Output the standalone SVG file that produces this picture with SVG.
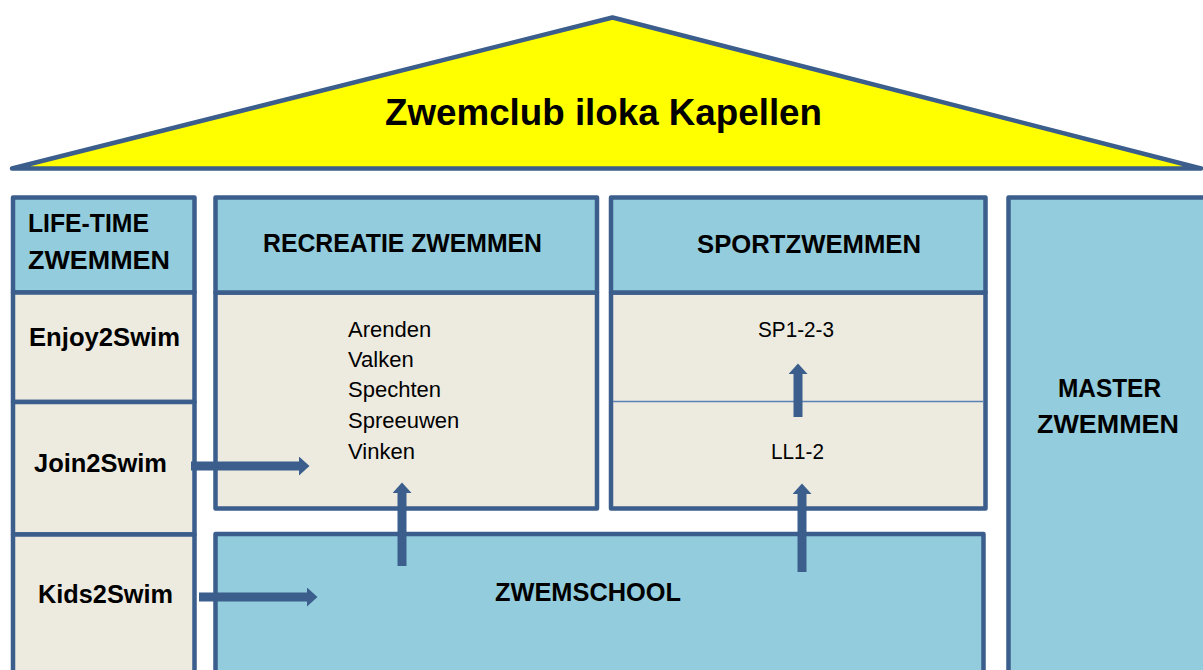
<svg xmlns="http://www.w3.org/2000/svg" width="1203" height="670" viewBox="0 0 1203 670">
<defs>
<style>
.hdr{fill:#93CDDD;stroke:#3B5E8C;stroke-width:4.5;stroke-linejoin:round}
.body{fill:#EDEBE0;stroke:#3B5E8C;stroke-width:4.5;stroke-linejoin:round}
.b{font-family:"Liberation Sans",Arial,sans-serif;font-weight:bold;font-size:25px;fill:#000}
.r{font-family:"Liberation Sans",Arial,sans-serif;font-size:22px;fill:#000}
.arr{stroke:#3B5E8C;stroke-width:9;fill:none}
</style>
<marker id="head" markerUnits="userSpaceOnUse" markerWidth="12" markerHeight="20" refX="0" refY="9.5" orient="auto" viewBox="0 0 12 20">
<path d="M0,0 L10.5,9.5 L0,19 Z" fill="#3B5E8C"/>
</marker>
</defs>
<rect x="0" y="0" width="1203" height="670" fill="#FFFFFF"/>

<g id="roof">
<polygon points="12,168.5 612.5,17.5 1201,168.5" fill="#FFFF00" stroke="#3B5E8C" stroke-width="4.5" stroke-linejoin="round"/>
<text x="603.5" y="125" text-anchor="middle" font-family="Liberation Sans, Arial, sans-serif" font-weight="bold" font-size="37" textLength="437" lengthAdjust="spacingAndGlyphs">Zwemclub iloka Kapellen</text>
</g>

<g id="lifetime">
<rect class="hdr" x="13" y="197.5" width="181.5" height="95"/>
<text class="b" x="28" y="232" textLength="121" lengthAdjust="spacingAndGlyphs">LIFE-TIME</text>
<text class="b" x="28" y="269" textLength="142" lengthAdjust="spacingAndGlyphs">ZWEMMEN</text>
</g>
<g id="enjoy2swim">
<rect class="body" x="13" y="292.5" width="181.5" height="109.5"/>
<text class="b" x="29" y="346" textLength="151" lengthAdjust="spacingAndGlyphs">Enjoy2Swim</text>
</g>
<g id="join2swim">
<rect class="body" x="13" y="402" width="181.5" height="132.5"/>
<text class="b" x="34" y="472" textLength="133" lengthAdjust="spacingAndGlyphs">Join2Swim</text>
</g>
<g id="kids2swim">
<rect class="body" x="13" y="534.5" width="181.5" height="150"/>
<text class="b" x="38" y="603" textLength="135" lengthAdjust="spacingAndGlyphs">Kids2Swim</text>
</g>

<g id="recreatie">
<rect class="body" x="215.5" y="292.5" width="381.5" height="216"/>
<rect class="hdr" x="215.5" y="197.5" width="381.5" height="95"/>
<text class="b" x="263" y="252" textLength="279" lengthAdjust="spacingAndGlyphs">RECREATIE ZWEMMEN</text>
<text class="r" x="348" y="337">Arenden</text>
<text class="r" x="348" y="367">Valken</text>
<text class="r" x="348" y="397">Spechten</text>
<text class="r" x="348" y="428">Spreeuwen</text>
<text class="r" x="348" y="459">Vinken</text>
</g>

<g id="sport">
<rect class="body" x="611" y="292.5" width="374.5" height="216"/>
<line x1="613" y1="401.5" x2="983.5" y2="401.5" stroke="#5A80B5" stroke-width="1.5"/>
<rect class="hdr" x="611" y="197.5" width="374.5" height="95"/>
<text class="b" x="697" y="252.5" textLength="224" lengthAdjust="spacingAndGlyphs">SPORTZWEMMEN</text>
<text class="r" x="758" y="337" textLength="76" lengthAdjust="spacingAndGlyphs">SP1-2-3</text>
<text class="r" x="771" y="459" textLength="53" lengthAdjust="spacingAndGlyphs">LL1-2</text>
</g>

<g id="master">
<rect class="hdr" x="1008.5" y="197.5" width="210" height="490"/>
<text class="b" x="1058" y="397" textLength="103" lengthAdjust="spacingAndGlyphs">MASTER</text>
<text class="b" x="1037" y="433" textLength="142" lengthAdjust="spacingAndGlyphs">ZWEMMEN</text>
</g>

<g id="zwemschool">
<rect class="hdr" x="215.5" y="534" width="768" height="150"/>
<text class="b" x="495" y="600.5" textLength="186" lengthAdjust="spacingAndGlyphs">ZWEMSCHOOL</text>
</g>

<g id="connectors">
<line class="arr" x1="191" y1="466" x2="299" y2="466" marker-end="url(#head)"/>
<line class="arr" x1="199" y1="597" x2="307" y2="597" marker-end="url(#head)"/>
<line class="arr" x1="402" y1="566" x2="402" y2="493" marker-end="url(#head)"/>
<line class="arr" x1="802" y1="572" x2="802" y2="494" marker-end="url(#head)"/>
<line class="arr" x1="798" y1="417" x2="798" y2="374" marker-end="url(#head)"/>
</g>
</svg>
